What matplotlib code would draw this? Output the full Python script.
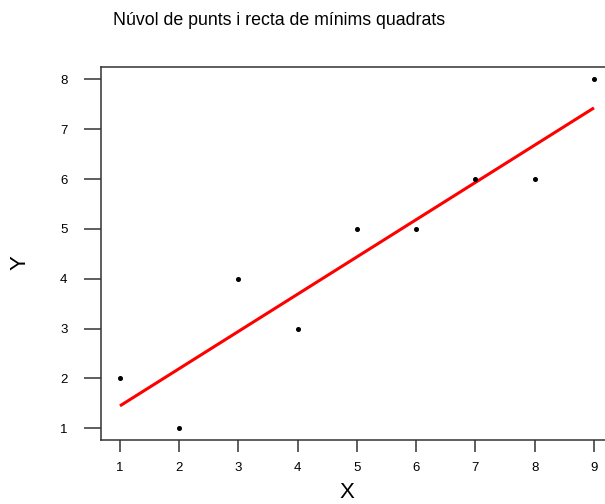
import numpy as np
import matplotlib.pyplot as plt

# Dades del núvol de punts
x_punts = [1, 2, 3, 4, 5, 6, 7, 8, 9]
y_punts = [2, 1, 4, 3, 5, 5, 6, 6, 8]

# Recta de mínims quadrats (extrems llegits del gràfic)
x_recta = [1, 9]
y_recta = [1.45, 7.43]

plt.rcParams['font.family'] = ['Liberation Sans', 'DejaVu Sans']

fig = plt.figure(figsize=(6.05, 5.04), dpi=100)
ax = fig.add_axes([101 / 605, 1 - 440 / 504, 1 - 101 / 605, (440 - 67) / 504])

ax.plot(x_recta, y_recta, color='red', linewidth=2.2, solid_capstyle='butt', zorder=2)
ax.plot(x_punts, y_punts, 'o', color='black', markersize=2.6, zorder=3)

ax.set_xlim(0.68, 9.186)
ax.set_ylim(0.765, 8.25)
ax.set_xticks(range(1, 10))
ax.set_yticks(range(1, 9))

for s in ax.spines.values():
    s.set_linewidth(1.1)
    s.set_color('#333333')
ax.spines['right'].set_visible(False)

ax.tick_params(axis='x', direction='out', length=8.6, width=1.1, color='#333333',
               labelsize=9.5, pad=7)
ax.tick_params(axis='y', direction='out', length=12.2, width=1.1, color='#333333',
               labelsize=9.5, pad=12)

fig.text(0.461, 0.96, 'Núvol de punts i recta de mínims quadrats',
         ha='center', va='center', fontsize=12.8)
fig.text(347 / 605, 1 - 492 / 504, 'X', ha='center', va='center', fontsize=16)
fig.text(20 / 605, 1 - 263 / 504, 'Y', ha='center', va='center', fontsize=16, rotation=90)

fig.savefig('out.png', dpi=100)
